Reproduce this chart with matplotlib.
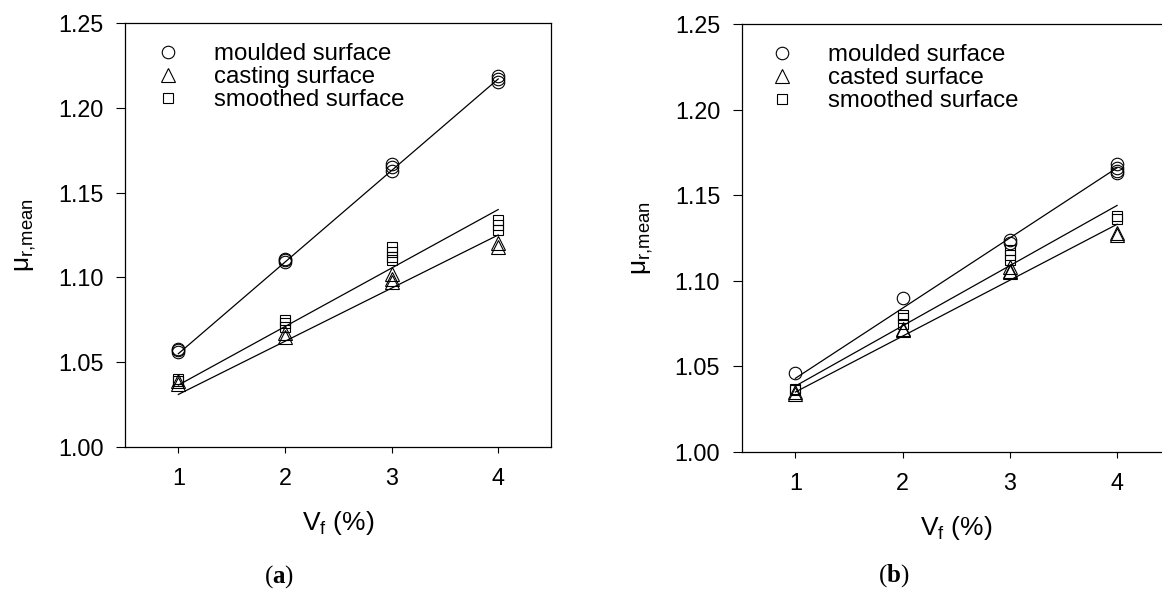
import matplotlib
matplotlib.use('Agg')
import matplotlib.pyplot as plt
from matplotlib.lines import Line2D

plt.rcParams['font.family'] = 'Liberation Sans'
plt.rcParams['mathtext.fontset'] = 'custom'
plt.rcParams['mathtext.rm'] = 'Liberation Sans'
plt.rcParams['mathtext.it'] = 'Liberation Sans:italic'
plt.rcParams['mathtext.bf'] = 'Liberation Serif:bold'

# ---- panel (a) ----
a_moulded_x = [1, 1, 1, 2, 2, 2, 3, 3, 3, 4, 4, 4]
a_moulded_y = [1.058, 1.057, 1.056, 1.111, 1.110, 1.109, 1.167, 1.165, 1.163, 1.219, 1.217, 1.215]
a_casting_x = [1, 1, 2, 2, 3, 3, 3, 4, 4]
a_casting_y = [1.039, 1.037, 1.067, 1.065, 1.102, 1.099, 1.097, 1.120, 1.118]
a_smoothed_x = [1, 1, 2, 2, 2, 3, 3, 3, 3, 4, 4, 4]
a_smoothed_y = [1.040, 1.039, 1.075, 1.073, 1.071, 1.118, 1.115, 1.112, 1.110, 1.134, 1.131, 1.128]
# regression lines, value at Vf = 1 and Vf = 4
fit_x = [1, 4]
a_moulded_fit = [1.055, 1.217]
a_casting_fit = [1.031, 1.125]
a_smoothed_fit = [1.0365, 1.140]
a_labels = ['moulded surface', 'casting surface', 'smoothed surface']

# ---- panel (b) ----
b_moulded_x = [1, 2, 3, 3, 4, 4, 4, 4]
b_moulded_y = [1.046, 1.090, 1.124, 1.122, 1.168, 1.166, 1.164, 1.163]
b_casted_x = [1, 1, 2, 2, 3, 3, 3, 4, 4]
b_casted_y = [1.035, 1.034, 1.072, 1.071, 1.108, 1.106, 1.105, 1.128, 1.127]
b_smoothed_x = [1, 1, 2, 2, 2, 3, 3, 3, 4, 4]
b_smoothed_y = [1.037, 1.036, 1.080, 1.078, 1.075, 1.118, 1.115, 1.112, 1.138, 1.136]
b_moulded_fit = [1.043, 1.166]
b_casted_fit = [1.035, 1.133]
b_smoothed_fit = [1.0385, 1.144]
b_labels = ['moulded surface', 'casted surface', 'smoothed surface']

x_ticks = [1, 2, 3, 4]
y_ticks = [1.00, 1.05, 1.10, 1.15, 1.20, 1.25]

markers = ['o', '^', 's']
msizes = [9, 9.5, 7.5]

fig = plt.figure(figsize=(11.62, 5.93), dpi=100)
ax1 = fig.add_axes([0.1076, 0.2462, 0.3670, 0.7150])
ax2 = fig.add_axes([0.6383, 0.2378, 0.3692, 0.7218])


def draw_panel(ax, pts, fits, labels, leg_x):
    for fy in fits:
        ax.plot(fit_x, fy, color='black', lw=0.9, zorder=2)
    handles = []
    for (xs, ys), m, ms in zip(pts, markers, msizes):
        ax.plot(xs, ys, linestyle='none', marker=m, ms=ms, mfc='none',
                mec='black', mew=0.8, zorder=3)
        handles.append(Line2D([], [], linestyle='none', marker=m, ms=ms,
                              mfc='none', mec='black', mew=0.8))
    ax.set_xlim(0.5, 4.5)
    ax.set_ylim(1.0, 1.25)
    ax.set_xticks(x_ticks)
    ax.set_yticks(y_ticks)
    ax.set_yticklabels(['%.2f' % v for v in y_ticks])
    ax.tick_params(axis='y', direction='out', length=6.5, width=0.8, pad=9, labelsize=16.8)
    ax.tick_params(axis='x', direction='out', length=4.3, width=0.8, pad=10, labelsize=16.8)
    for s in ax.spines.values():
        s.set_linewidth(0.9)
    ax.set_xlabel('V$_{\\mathrm{f}}$ (%)', fontsize=19, labelpad=14)
    ax.set_ylabel('\u03bc$_{\\mathrm{r{,}mean}}$', fontsize=19, labelpad=14)
    ax.legend(handles, labels, loc='upper left', bbox_to_anchor=(leg_x, 0.953),
              frameon=False, fontsize=17.3, handlelength=1.0, handletextpad=1.42,
              labelspacing=0.05, borderpad=0, borderaxespad=0, numpoints=1)


draw_panel(ax1,
           [(a_moulded_x, a_moulded_y), (a_casting_x, a_casting_y), (a_smoothed_x, a_smoothed_y)],
           [a_moulded_fit, a_casting_fit, a_smoothed_fit], a_labels, 0.0727)
draw_panel(ax2,
           [(b_moulded_x, b_moulded_y), (b_casted_x, b_casted_y), (b_smoothed_x, b_smoothed_y)],
           [b_moulded_fit, b_casted_fit, b_smoothed_fit], b_labels, 0.0657)

fig.text(0.240, 0.027, '($\\mathbf{a}$)', family='Liberation Serif', fontsize=18,
         ha='center', va='center')
fig.text(0.769, 0.030, '($\\mathbf{b}$)', family='Liberation Serif', fontsize=18,
         ha='center', va='center')

fig.savefig('out.png', dpi=100)
